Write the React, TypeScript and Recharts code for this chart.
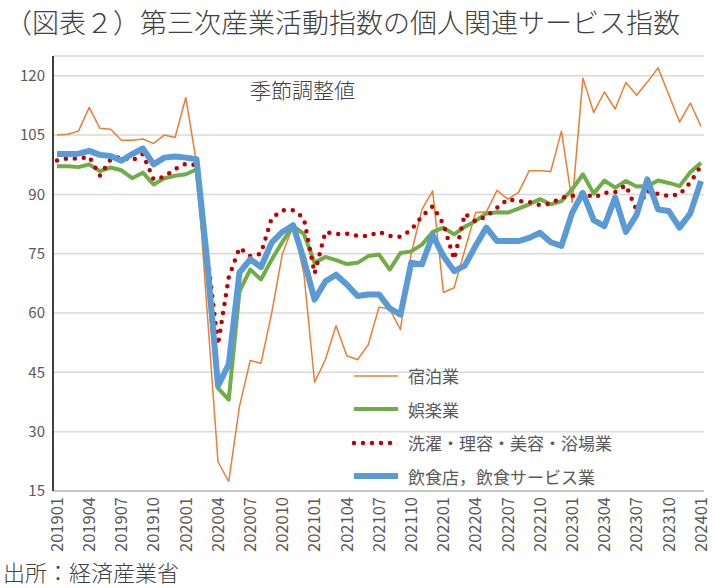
import { LineChart, Line, XAxis, YAxis, CartesianGrid, Legend } from "recharts"

const FONT = '"Noto Sans CJK JP", "Noto Sans", sans-serif'

const months = [
    "201901", "201902", "201903", "201904", "201905", "201906", "201907", "201908", "201909", "201910", "201911", "201912",
    "202001", "202002", "202003", "202004", "202005", "202006", "202007", "202008", "202009", "202010", "202011", "202012",
    "202101", "202102", "202103", "202104", "202105", "202106", "202107", "202108", "202109", "202110", "202111", "202112",
    "202201", "202202", "202203", "202204", "202205", "202206", "202207", "202208", "202209", "202210", "202211", "202212",
    "202301", "202302", "202303", "202304", "202305", "202306", "202307", "202308", "202309", "202310", "202311", "202312",
    "202401"
]

// 宿泊業
const accommodation = [
    105, 105.2, 106, 112, 106.7, 106.5, 103.7, 103.7, 104, 102.9, 105, 104.4,
    114.5, 98, 60, 22.4, 17.4, 36.4, 48, 47.3, 60, 75, 82, 70,
    42.5, 48.2, 56.8, 49.2, 48.2, 52, 61.5, 61, 55.8, 75, 86.2, 90.9,
    65.2, 66.4, 76, 85.4, 85.6, 91, 88.8, 90.5, 96, 96, 95.8, 106,
    88, 119.4, 110.7, 115.9, 111.6, 118.3, 115.1, 118.4, 122, 115.2, 108.3, 113.1,
    107.2
]

// 娯楽業
const entertainment = [
    97.1, 97.1, 96.9, 97.6, 95.9, 96.8, 96.1, 94.1, 95.5, 92.5, 94.1, 94.7,
    95.1, 96.3, 70, 41, 38.1, 65.5, 71, 68.5, 73.5, 78, 82, 80,
    72.7, 74.2, 73.4, 72.4, 72.7, 74.4, 74.8, 71, 75.2, 75.6, 77.3, 80.5,
    81.6, 79.9, 81.8, 83.3, 85.2, 85.5, 85.4, 86.4, 87.5, 88.8, 87.5, 88.3,
    91.3, 95.1, 90.2, 93.5, 91.7, 93.4, 92, 92.1, 93.5, 92.9, 92.1, 95.6,
    98
]

// 洗濯・理容・美容・浴場業
const laundryBeauty = [
    98.6, 99.1, 99.1, 99.5, 94.8, 98.9, 99.5, 98.5, 100.2, 93.8, 94.5, 96.4,
    97.8, 97.4, 75, 52, 69, 76.5, 74.4, 75, 84, 86, 86, 84,
    70, 80.5, 80, 80.1, 79.5, 79.5, 80.5, 79.5, 79.3, 81, 84.5, 87,
    82.5, 73.6, 85.1, 83.2, 84.5, 86.6, 88.8, 88.3, 88.1, 87.3, 87.7, 89.2,
    89.6, 90.4, 89.2, 90.4, 90.6, 92.3, 86, 90.9, 90.1, 89.6, 90, 93,
    97.2
]

// 飲食店，飲食サービス業
const restaurants = [
    100.2, 100.2, 100.3, 101, 100, 99.7, 98.5, 100.2, 101.6, 97.6, 99.3, 99.6,
    99.3, 98.9, 73, 41.6, 47, 70.2, 73.6, 71.6, 77.8, 80.5, 82.2, 73.5,
    63.4, 68, 69.7, 67.2, 64.3, 64.7, 64.7, 61.2, 59.6, 72.7, 72.3, 79.7,
    74.4, 70.6, 72, 77, 81.6, 78.2, 78.2, 78.2, 79, 80.3, 77.9, 77,
    85.4, 90.4, 83.5, 82, 89.2, 80.5, 84.8, 93.8, 86.2, 85.8, 81.6, 85.2,
    93.4
]

const yTicks = [15, 30, 45, 60, 75, 90, 105, 120]

const series = [
    { key: "accommodation", name: "宿泊業", color: "#ED7D31", width: 1.5, dash: undefined as string | undefined },
    { key: "entertainment", name: "娯楽業", color: "#70AD47", width: 4, dash: undefined as string | undefined },
    { key: "laundryBeauty", name: "洗濯・理容・美容・浴場業", color: "#C00000", width: 4.5, dash: "0 9" },
    { key: "restaurants", name: "飲食店，飲食サービス業", color: "#5B9BD5", width: 6, dash: undefined as string | undefined }
]

const data = months.map((month, i) => ({
    month,
    accommodation: accommodation[i],
    entertainment: entertainment[i],
    laundryBeauty: laundryBeauty[i],
    restaurants: restaurants[i]
}))

function MonthTick({ x, y, payload }: any) {
    const ty = y + 6
    return (
        <text
            x={x}
            y={ty}
            transform={`rotate(-90 ${x} ${ty})`}
            textAnchor="end"
            dy="0.35em"
            fill="#595959"
            fontSize={16.5}
            fontFamily={FONT}
        >
            {payload.value}
        </text>
    )
}

function renderLegend() {
    return (
        <div style={{ fontFamily: FONT, fontSize: 17, color: "#595959" }}>
            {series.map(s => (
                <div key={s.key} style={{ display: "flex", alignItems: "center", height: 33.5 }}>
                    <svg width={48} height={10}>
                        <line
                            x1={2}
                            y1={5}
                            x2={46}
                            y2={5}
                            stroke={s.color}
                            strokeWidth={s.width}
                            strokeDasharray={s.dash}
                            strokeLinecap={s.dash ? "round" : "butt"}
                        />
                    </svg>
                    <span style={{ marginLeft: 8, whiteSpace: "nowrap" }}>{s.name}</span>
                </div>
            ))}
        </div>
    )
}

export default function App() {
    return (
        <div style={{ position: "absolute", left: 0, top: 0, width: 715, height: 588, background: "#fff", fontFamily: FONT }}>
            <div style={{ position: "absolute", left: 5, top: 7, fontSize: 27, fontWeight: 300, lineHeight: "30px", color: "#404040", whiteSpace: "nowrap" }}>
                （図表２）第三次産業活動指数の個人関連サービス指数
            </div>

            <LineChart width={715} height={588} data={data} margin={{ top: 56, right: 11, bottom: 32, left: 8 }}>
                <CartesianGrid vertical={false} stroke="#d9d9d9" strokeWidth={1.5} />
                <XAxis
                    dataKey="month"
                    interval={2}
                    height={65}
                    tickSize={0}
                    tickMargin={0}
                    tickLine={false}
                    tick={<MonthTick />}
                    axisLine={{ stroke: "#bfbfbf", strokeWidth: 1.5 }}
                    padding={{ left: 4, right: 3 }}
                />
                <XAxis
                    xAxisId="top"
                    dataKey="month"
                    orientation="top"
                    height={0}
                    tick={false}
                    tickLine={false}
                    axisLine={{ stroke: "#000", strokeWidth: 1.5 }}
                />
                <YAxis
                    domain={[15, 125]}
                    ticks={yTicks}
                    width={45}
                    tickSize={0}
                    tickMargin={8}
                    tickLine={false}
                    axisLine={{ stroke: "#000", strokeWidth: 1.5 }}
                    tick={{ fill: "#595959", fontSize: 15, fontFamily: FONT }}
                />
                <YAxis
                    yAxisId="right"
                    orientation="right"
                    domain={[15, 125]}
                    width={0}
                    tick={false}
                    tickLine={false}
                    axisLine={{ stroke: "#000", strokeWidth: 1.5 }}
                />
                <Legend
                    layout="vertical"
                    verticalAlign="middle"
                    align="center"
                    content={renderLegend}
                    wrapperStyle={{ position: "absolute", left: 352, top: 359, width: 300 }}
                />
                {series.map(s => (
                    <Line
                        key={s.key}
                        type="linear"
                        dataKey={s.key}
                        name={s.name}
                        stroke={s.color}
                        strokeWidth={s.width}
                        strokeDasharray={s.dash}
                        strokeLinecap={s.dash ? "round" : "butt"}
                        strokeLinejoin="round"
                        dot={false}
                        activeDot={false}
                        isAnimationActive={false}
                    />
                ))}
            </LineChart>

            <div style={{ position: "absolute", left: 250, top: 76, fontSize: 21, fontWeight: 300, lineHeight: "26px", color: "#404040" }}>
                季節調整値
            </div>
            <div style={{ position: "absolute", left: 3, top: 558, fontSize: 22, fontWeight: 300, lineHeight: "26px", color: "#404040" }}>
                出所：経済産業省
            </div>
        </div>
    )
}
